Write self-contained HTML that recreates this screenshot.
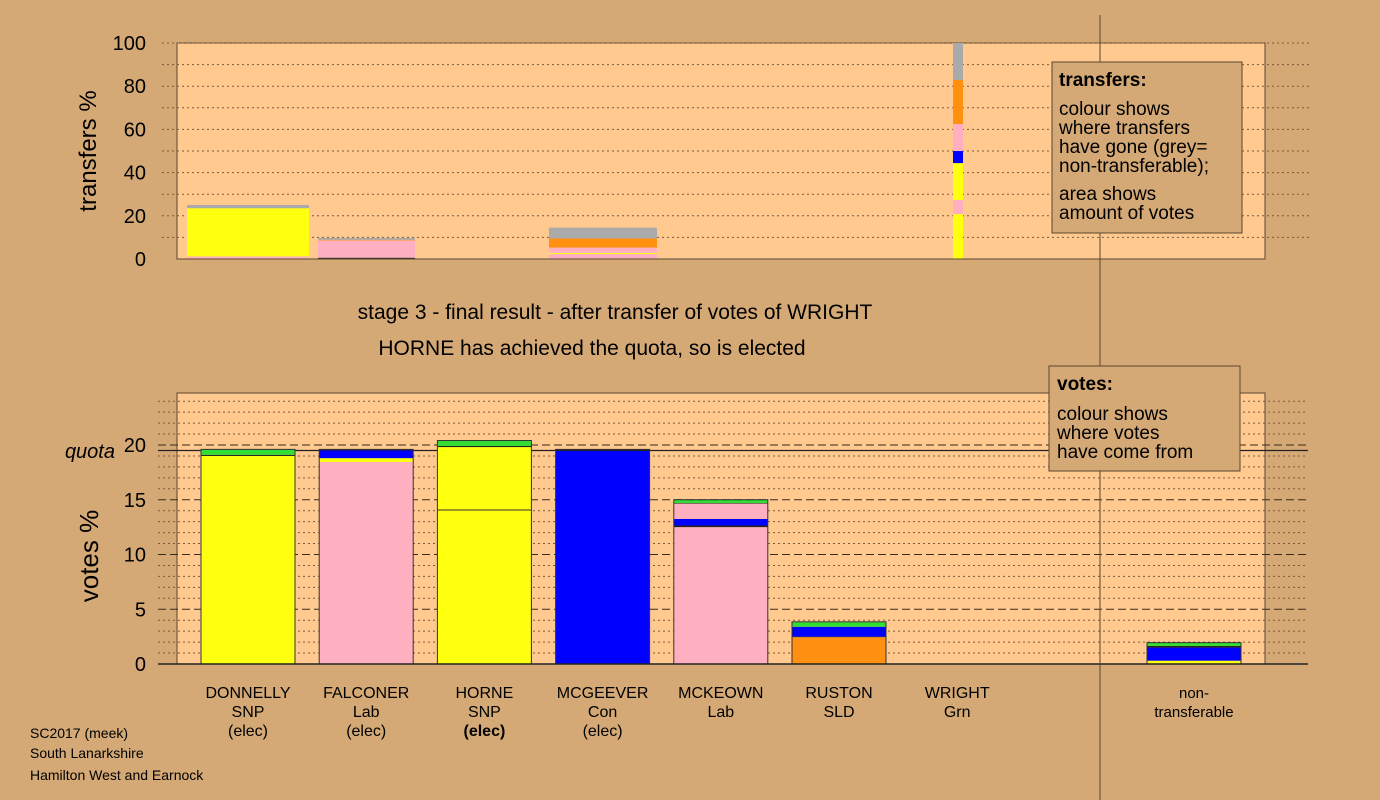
<!DOCTYPE html>
<html><head><meta charset="utf-8"><style>
body{margin:0;background:#D4A976;}
svg{display:block;font-family:"Liberation Sans",sans-serif;}
</style></head><body>
<svg id="c" width="1380" height="800" xmlns="http://www.w3.org/2000/svg">
<rect x="0" y="0" width="1380" height="800" fill="#D4A976"/>
<g id="topPanel"></g><g id="botPanel"></g>
<line x1="1100" y1="15" x2="1100" y2="800" stroke="#5a4630" stroke-width="1"/>
<g>
<rect x="1052" y="62" width="190" height="171" fill="#D4A976" stroke="#5a4630"/>
<text x="1059" y="86" font-size="19" font-weight="bold">transfers:</text>
<text x="1059" y="115" font-size="19">colour shows</text>
<text x="1059" y="134" font-size="19">where transfers</text>
<text x="1059" y="153" font-size="19">have gone (grey=</text>
<text x="1059" y="172" font-size="19">non-transferable);</text>
<text x="1059" y="200" font-size="19">area shows</text>
<text x="1059" y="219" font-size="19">amount of votes</text>
</g>
<g>
<rect x="1049" y="366" width="191" height="105" fill="#D4A976" stroke="#5a4630"/>
<text x="1057" y="390" font-size="19" font-weight="bold">votes:</text>
<text x="1057" y="420" font-size="19">colour shows</text>
<text x="1057" y="439" font-size="19">where votes</text>
<text x="1057" y="458" font-size="19">have come from</text>
</g>
<text x="615" y="319" font-size="21" text-anchor="middle">stage 3 - final result - after transfer of votes of WRIGHT</text>
<text x="592" y="355" font-size="21" text-anchor="middle">HORNE has achieved the quota, so is elected</text>
<text transform="translate(96,151) rotate(-90)" font-size="24" text-anchor="middle">transfers %</text>
<text transform="translate(98,556) rotate(-90)" font-size="26" text-anchor="middle">votes %</text>
<text x="115" y="458" font-size="20" font-style="italic" text-anchor="end">quota</text>
<g font-size="14">
<text x="30" y="738">SC2017 (meek)</text>
<text x="30" y="758">South Lanarkshire</text>
<text x="30" y="780">Hamilton West and Earnock</text>
</g>
</svg>
<script>
const NS="http://www.w3.org/2000/svg";
const candidates=["DONNELLY","FALCONER","HORNE","MCGEEVER","MCKEOWN","RUSTON","WRIGHT","non-"];
const parties=["SNP","Lab","SNP","Con","Lab","SLD","Grn","transferable"];
const status=["(elec)","(elec)","(elec)","(elec)","","","",""];
const COL={y:"#FFFF10",p:"#FFB0C0",b:"#0000FF",g:"#33DD33",o:"#FF9010",n:"#AAAAAA",k:"#222222"};
const voteSegs=[
 [["y",19.0],["k",0.1],["g",0.5]],
 [["p",18.45],["y",0.35],["b",0.7],["k",0.1]],
 [["y",14.06],["y",5.75],["k",0.1],["g",0.5]],
 [["b",19.45],["k",0.15]],
 [["p",12.5],["k",0.15],["b",0.6],["p",1.4],["k",0.05],["g",0.3]],
 [["o",2.45],["k",0.05],["b",0.9],["g",0.45]],
 [],
 [["y",0.3],["b",1.2],["k",0.15],["g",0.3]]
];
const transferSegs=[
 [["p",1.2],["y",22.3],["n",1.5]],
 [["k",0.6],["p",8.0],["o",0.3],["n",0.9]],
 [],
 [["p",2.3],["y",0.5],["p",2.5],["o",4.2],["n",5.0]],
 [],[],
 [["y",20.8],["p",6.5],["y",17.1],["b",5.6],["p",12.5],["o",20.4],["n",17.1]]
];
const transferX=[[187,122],[318,97],null,[549,108],null,null,[953,10]];
const quota=19.5;
const tTicks=[0,20,40,60,80,100];
const vTicks=[0,5,10,15,20];

const yT=v=>259-v*2.16;
const yV=v=>664-v*10.95;
const barX=i=>i<7?201+i*118.2:1147;

function el(tag,attrs,parent){const e=document.createElementNS(NS,tag);for(const k in attrs)e.setAttribute(k,attrs[k]);parent.appendChild(e);return e;}
const topG=document.getElementById('topPanel'),botG=document.getElementById('botPanel');

let r=el('rect',{x:177,y:43,width:1088,height:216,fill:"#FFC990",stroke:"#5a4630"},topG);


for(let v=10;v<=100;v+=10){
 let l=el('line',{x1:162,x2:1310,y1:yT(v),y2:yT(v),stroke:"#7a5a3a","stroke-dasharray":"2,3","stroke-width":1},topG);
 
 
}
tTicks.forEach(v=>{
 let t=el('text',{x:146,y:yT(v)+7,"font-size":20,"text-anchor":"end"},topG);t.textContent=v;
 
 
});
transferSegs.forEach((segs,i)=>{
 if(!segs.length)return;let acc=0;const [x,w]=transferX[i];
 segs.forEach(([c,v])=>{
  let s=el('rect',{x:x,width:w,y:yT(acc+v),height:v*2.16,fill:COL[c]},topG);
  
  
  acc+=v;});
});
el('line',{x1:177,x2:1265,y1:259,y2:259,stroke:"#5a4630"},topG);

r=el('rect',{x:177,y:393,width:1088,height:271,fill:"#FFC990",stroke:"#5a4630"},botG);


for(let v=1;v<=24;v++){
 const major=v%5==0;
 let l=el('line',{x1:158,x2:1308,y1:yV(v),y2:yV(v),stroke:major?"#3a2a1a":"#7a5a3a","stroke-dasharray":major?"8,4":"2,3","stroke-width":1},botG);
 
 
}
vTicks.forEach(v=>{
 let t=el('text',{x:146,y:yV(v)+7,"font-size":20,"text-anchor":"end"},botG);t.textContent=v;
 
 
});
let q=el('line',{x1:158,x2:1308,y1:yV(quota),y2:yV(quota),stroke:"#222","stroke-width":1.3},botG);


voteSegs.forEach((segs,i)=>{
 if(!segs.length)return;let acc=0;const x=barX(i);
 segs.forEach(([c,v])=>{
  let s=el('rect',{x:x,width:94,y:yV(acc+v),height:v*10.95,fill:COL[c]},botG);
  
  
  acc+=v;});
 let o=el('rect',{x:x,width:94,y:yV(acc),height:acc*10.95,fill:"none",stroke:"#333","stroke-width":1},botG);
 
 
 if(i==2){el('line',{x1:x,x2:x+94,y1:yV(segs[0][1]),y2:yV(segs[0][1]),stroke:"#333"},botG);}
});
el('line',{x1:158,x2:1308,y1:664,y2:664,stroke:"#222","stroke-width":1.5},botG);
candidates.forEach((c,i)=>{
 const cx=barX(i)+47;
 const lines=[c,parties[i],status[i]];
 lines.forEach((s,j)=>{
  if(!s)return;
  let t=el('text',{x:cx,y:698+j*19,"font-size":i==7?15:16,"text-anchor":"middle"},botG);
  if(i==2&&j==2)t.setAttribute('font-weight','bold');
  t.textContent=s;
  
  
 });
});
</script>
</body></html>
